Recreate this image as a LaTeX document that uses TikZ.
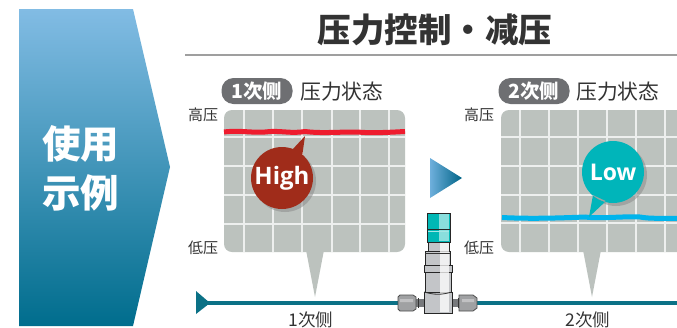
\documentclass[tikz,border=0pt]{standalone}
\usepackage{fontspec}
\setmainfont{Noto Sans CJK JP}
\newfontfamily\latinf{Open Sans}
\definecolor{panelc}{HTML}{BCC2BE}
\definecolor{teall}{HTML}{0B7186}
\definecolor{txtc}{HTML}{333333}
\definecolor{pillc}{HTML}{6E6F72}
\definecolor{redl}{HTML}{EE1C2E}
\definecolor{bluel}{HTML}{00B4EC}
\definecolor{highc}{HTML}{A02C1A}
\definecolor{lowc}{HTML}{00B5BA}
\definecolor{metal}{HTML}{C3C5C8}
\definecolor{metald}{HTML}{77797C}
\definecolor{valvet}{HTML}{00B7B5}
\definecolor{gridc}{HTML}{EDEFEE}
\tikzset{
  x=1pt,y=-1pt,
  lab/.style={inner sep=0pt,text=txtc,font=\fontsize{17.5}{18}\selectfont},
  axis/.style={inner sep=0pt,text=txtc,font=\fontsize{15}{15}\selectfont},
  pill/.style={fill=pillc,rounded corners=12pt,minimum width=71pt,minimum height=26pt,inner sep=0pt,text=white,font=\bfseries\fontsize{19.5}{20}\selectfont},
  statetext/.style={inner sep=0pt,text=txtc,font=\fontsize{20.8}{21}\selectfont},
  vpart/.style={draw=black!85,line width=.8pt,fill=metal},
  fitting/.style={draw=black!70,line width=.8pt,fill=metald!70!white},
  gridline/.style={gridc,line width=1.2pt},
}
\begin{document}
\begin{tikzpicture}
\useasboundingbox (0,0) rectangle (677,327);
\fill[white] (0,0) rectangle (677,327);
% banner
\path[top color={rgb,255:red,130;green,188;blue,228}, bottom color={rgb,255:red,0;green,109;blue,141}] (19,9) -- (133,9) -- (170,167) -- (133,326) -- (19,326) -- cycle;
\node[inner sep=0pt,text=white,font=\bfseries\fontsize{38.5}{49}\selectfont,align=center] (usage) at (80.5,168) {使用\\示例};
% title
\node[inner sep=0pt,text=txtc,font=\bfseries\fontsize{33.5}{34}\selectfont] (title) at (435,30) {压力控制・减压};
\draw[gray!75,line width=1.6pt] (185,55) -- (677,55);
% left panel
\fill[panelc,rounded corners=8pt] (224,110) rectangle (405,252);
\fill[panelc] (306,250) -- (324,250) -- (315,297) -- cycle;
\foreach \gx in {244,273,302,332,360,389} \draw[gridline] (\gx,110) -- (\gx,252);
\foreach \gy in {137,166,195,224} \draw[gridline] (224,\gy) -- (405,\gy);
\draw[redl,line width=5pt] (224,132) .. controls (240,130) and (250,133) .. (265,132) .. controls (280,130) and (290,134) .. (305,131.5) .. controls (325,134) and (345,131) .. (365,132.5) .. controls (380,133) and (395,132) .. (405,131.5);
% right panel
\fill[panelc,rounded corners=8pt] (501,110) rectangle (690,252);
\fill[panelc] (583,250) -- (601,250) -- (592,297) -- cycle;
\foreach \gx in {520,549,578,607,636,665} \draw[gridline] (\gx,110) -- (\gx,252);
\foreach \gy in {137,166,195,223} \draw[gridline] (501,\gy) -- (677,\gy);
\draw[bluel,line width=5pt] (502,217.5) .. controls (530,219) and (560,218) .. (585,217) .. controls (600,219) and (625,216) .. (640,217) .. controls (650,219) and (665,218) .. (677,218.5);
% bubbles
\fill[black!45,opacity=.55] (285,181) circle (31);
\fill[highc] (282,178) circle (31) (292,150) -- (305,136) -- (302,157) -- cycle;
\node[inner sep=0pt,text=white,font=\latinf\bfseries\fontsize{24}{24}\selectfont] (high) at (282,178) {High};
\fill[black!45,opacity=.55] (616,175) circle (31);
\fill[lowc] (613,172) circle (31) (593,195) -- (589,217) -- (606,201) -- cycle;
\node[inner sep=0pt,text=white,font=\latinf\bfseries\fontsize{23}{24}\selectfont] (low) at (613,172) {Low};
% labels
\node[pill] (p1) at (257,91) {1次侧};
\node[statetext,anchor=west] (s1) at (300,92) {压力状态};
\node[pill] (p2) at (534,91) {2次侧};
\node[statetext,anchor=west] (s2) at (576,92) {压力状态};
\node[axis] (h1) at (203,115) {高压};
\node[axis] (l1) at (203,248) {低压};
\node[axis] (h2) at (479,115) {高压};
\node[axis] (l2) at (479,248) {低压};
\node[lab] (b1) at (311,320) {1次侧};
\node[lab] (b2) at (588,320) {2次侧};
% arrow
\path[left color={rgb,255:red,110;green,175;blue,220}, right color={rgb,255:red,0;green,100;blue,135}] (430,158) -- (462,178) -- (430,198) -- cycle;
% pipe
\fill[teall] (196,291) -- (210,303) -- (196,314) -- cycle;
\draw[teall,line width=4.2pt] (205,303) -- (677,303);
% valve
\fill[metald] (416,299) rectangle (426,307);
\fill[metald] (450,299) rectangle (460,307);
\path[fitting] (400,295) -- (413,295) -- (416,297) -- (416,309) -- (413,311) -- (400,311) -- (398,309) -- (398,297) -- cycle;
\path[fitting] (459,295) -- (473,295) -- (477,298) -- (477,308) -- (473,311) -- (459,311) -- cycle;
\fill[white,opacity=.35] (400,299) rectangle (413,302) (462,299) rectangle (474,302);
\draw[black!80,line width=.8pt] (418,298) -- (418,308) (458,298) -- (458,308);
\path[vpart] (428,242) rectangle (449,251);
\path[vpart] (425,251) rectangle (450,265);
\path[vpart] (424,265) rectangle (452,272);
\path[vpart] (425,272) rectangle (451,292);
\path[vpart] (424,292) rectangle (452,313);
\fill[white,opacity=.75] (440,243) rectangle (449,312);
\draw[black!80,line width=.8pt] (424,292) .. controls (435,295) and (441,295) .. (452,292);
\draw[black!80,line width=.8pt] (425,253) -- (450,253);
\path[draw=black!85,line width=.8pt,fill=valvet] (427,213) rectangle (450,242);
\fill[valvet!70!white] (439,214) rectangle (449,241);
\fill[white,opacity=.35] (439,214) rectangle (449,241);
\draw[black!85,line width=.8pt] (427,229) -- (450,229);
\draw[valvet!35!white,line width=.8pt] (428,231) -- (449,231);
\end{tikzpicture}
\end{document}
